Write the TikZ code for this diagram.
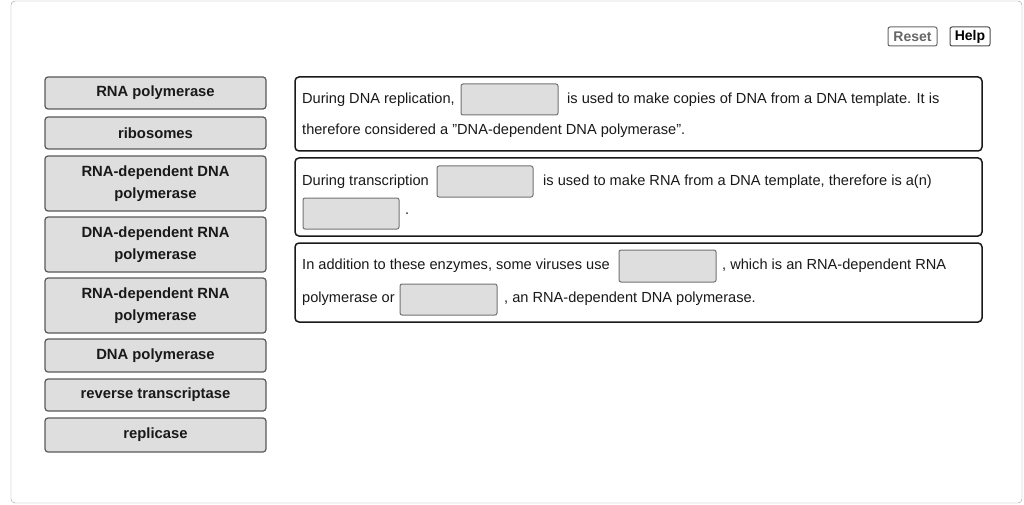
\documentclass[tikz,border=0pt]{standalone}
\usepackage{fontspec}
\setmainfont{Liberation Sans}
\begin{document}
\begin{tikzpicture}[x=1pt,y=-1pt,
 btn/.style={draw=black!65,line width=1.2pt,rounded corners=3pt,fill=black!13},
 lbl/.style={font=\fontsize{14.8}{22}\selectfont\bfseries,align=center,text=black!90},
 panel/.style={draw=black!90,line width=1.5pt,rounded corners=4pt,fill=white},
 blank/.style={draw=black!55,line width=1pt,rounded corners=2pt,fill=black!13},
 txt/.style={font=\fontsize{14.6}{17}\selectfont,anchor=west,inner sep=0pt,text=black!90}]
\useasboundingbox (0,0) rectangle (1024,505);
\draw[black!40,rounded corners=4pt] (11,1) rectangle (1022,503);
\draw[black!60,line width=1pt,rounded corners=2pt,fill=white] (888,27) rectangle (937,46);
\node[font=\fontsize{14}{15}\selectfont\bfseries,text=black!60,inner sep=0pt] (reset) at (912.5,36.5) {Reset};
\draw[black!70,line width=1pt,rounded corners=2pt,fill=white] (950,27) rectangle (990,46);
\node[font=\fontsize{14}{15}\selectfont\bfseries,inner sep=0pt] (help) at (970,36.5) {Help};
\foreach \a/\b/\t [count=\i] in {77/109/RNA polymerase,117/149/ribosomes,156/211/{RNA-dependent DNA\\polymerase},217/272/{DNA-dependent RNA\\polymerase},278/333/{RNA-dependent RNA\\polymerase},339/372/DNA polymerase,379/411/reverse transcriptase,418/452/replicase}{
 \draw[btn] (45,\a) rectangle (266,\b);
 \node[lbl] (b\i) at (155.5,{(\a+\b)/2}) {\t};
}
% panel 1
\draw[panel] (295,77) rectangle (982,151);
\draw[blank] (461,84) rectangle (558,115);
\node[txt] (t1a) at (302,100) {During DNA replication,};
\node[txt] (t1b) at (567,100) {is used to make copies of DNA from a DNA template. It is};
\node[txt] (t1c) at (302,131) {therefore considered a "DNA-dependent DNA polymerase".};
% panel 2
\draw[panel] (295,158) rectangle (982,236);
\draw[blank] (437,166) rectangle (533,197);
\draw[blank] (303,198) rectangle (399,229);
\node[txt] (t2a) at (302,182) {During transcription};
\node[txt] (t2b) at (543,182) {is used to make RNA from a DNA template, therefore is a(n)};
\node[txt] (t2c) at (405,214) {.};
% panel 3
\draw[panel] (295,243) rectangle (982,322);
\draw[blank] (619,250) rectangle (716,282);
\draw[blank] (400,284) rectangle (497,315);
\node[txt] (t3a) at (302,266) {In addition to these enzymes, some viruses use};
\node[txt] (t3b) at (722,266) {, which is an RNA-dependent RNA};
\node[txt] (t3c) at (302,299) {polymerase or};
\node[txt] (t3d) at (504,299) {, an RNA-dependent DNA polymerase.};
\end{tikzpicture}
\end{document}
